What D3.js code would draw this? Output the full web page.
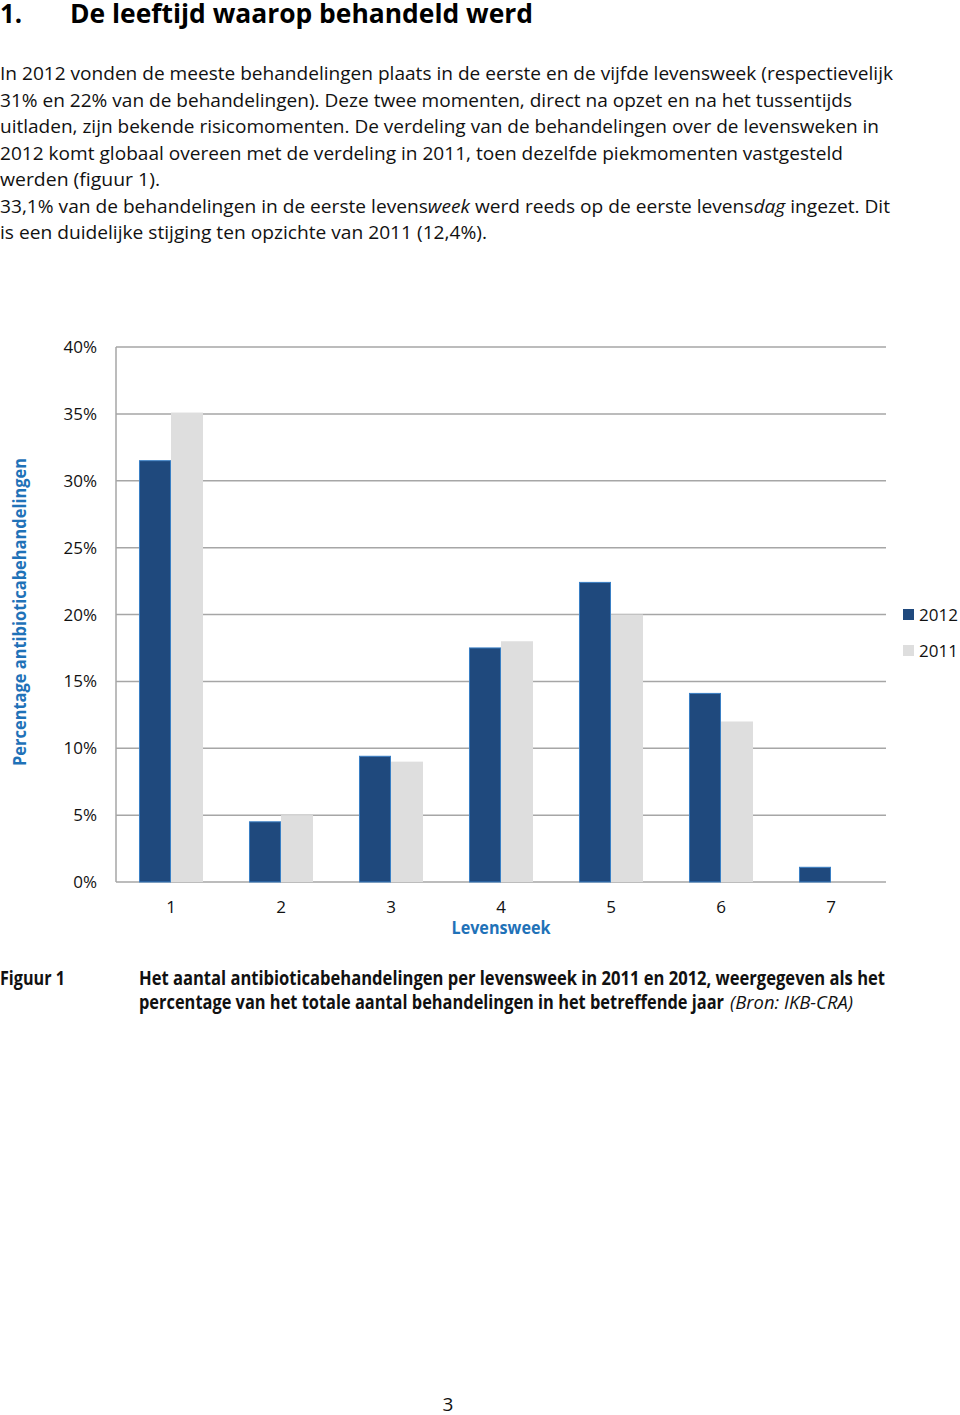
<!DOCTYPE html>
<meta charset="utf-8">
<style>
  body { margin: 0; background: #fff; }
  svg { display: block; font-family: "Open Sans", "Noto Sans", sans-serif; }
  .body-text { font-size: 19px; fill: #111; }
  .tick-label { font-size: 17px; fill: #111; }
  .axis-title { font-size: 17px; font-weight: bold; fill: #1f72b8; }
</style>
<script src="https://d3js.org/d3.v7.min.js"></script>
<svg width="960" height="1415"></svg>
<script>
  // chart data
  var weeks = ["1", "2", "3", "4", "5", "6", "7"];
  var series = ["2012", "2011"];
  var values2012 = [31.5, 4.5, 9.4, 17.5, 22.4, 14.1, 1.1];
  var values2011 = [35.1, 5.0, 9.0, 18.0, 20.0, 12.0, 0];
  var yTicks = [0, 5, 10, 15, 20, 25, 30, 35, 40];
  var colors = { "2012": "#1f497d", "2011": "#dedede" };

  var svg = d3.select("svg");

  svg.append("rect").attr("width", 960).attr("height", 1415).attr("fill", "#fff");

  // fit a text element to a measured width
  function fitText(sel, len) {
    return sel.attr("textLength", len).attr("lengthAdjust", "spacingAndGlyphs");
  }

  // heading
  fitText(svg.append("text").attr("x", 0).attr("y", 23)
    .style("font-size", "27px").style("font-weight", "bold").text("1."), 22);
  fitText(svg.append("text").attr("x", 70).attr("y", 23)
    .style("font-size", "27px").style("font-weight", "bold")
    .text("De leeftijd waarop behandeld werd"), 463);

  // paragraph lines: [text parts, width]
  var lines = [
    [[["In 2012 vonden de meeste behandelingen plaats in de eerste en de vijfde levensweek (respectievelijk", false]], 893],
    [[["31% en 22% van de behandelingen). Deze twee momenten, direct na opzet en na het tussentijds", false]], 852],
    [[["uitladen, zijn bekende risicomomenten. De verdeling van de behandelingen over de levensweken in", false]], 879],
    [[["2012 komt globaal overeen met de verdeling in 2011, toen dezelfde piekmomenten vastgesteld", false]], 843],
    [[["werden (figuur 1).", false]], 160],
    [[["33,1% van de behandelingen in de eerste levens", false], ["week", true],
      [" werd reeds op de eerste levens", false], ["dag", true], [" ingezet. Dit", false]], 890],
    [[["is een duidelijke stijging ten opzichte van 2011 (12,4%).", false]], 487]
  ];

  lines.forEach(function (l, i) {
    var t = svg.append("text").attr("class", "body-text")
      .attr("x", 0).attr("y", 80 + i * 26.5);
    l[0].forEach(function (p) {
      t.append("tspan").style("font-style", p[1] ? "italic" : "normal").text(p[0]);
    });
    fitText(t, l[1]);
  });

  // chart
  var plotLeft = 116, plotRight = 886, plotTop = 347, plotBottom = 882;

  var y = d3.scaleLinear().domain([0, 40]).range([plotBottom, plotTop]);

  var x0 = d3.scaleBand().domain(weeks).range([plotLeft, plotRight])
    .paddingInner(0.418).paddingOuter(0.209);

  var x1 = d3.scaleBand().domain(series).range([0, x0.bandwidth()]);

  var g = svg.append("g");

  // gridlines
  g.selectAll("line.grid").data(yTicks).enter().append("line")
    .attr("class", "grid")
    .attr("x1", plotLeft).attr("x2", plotRight)
    .attr("y1", function (d) { return y(d); })
    .attr("y2", function (d) { return y(d); })
    .attr("stroke", "#a6a6a6").attr("stroke-width", 1.5);

  g.append("line")
    .attr("x1", plotLeft).attr("x2", plotLeft)
    .attr("y1", plotTop).attr("y2", plotBottom)
    .attr("stroke", "#a6a6a6").attr("stroke-width", 1.5);

  g.selectAll("text.ytick").data(yTicks).enter().append("text")
    .attr("class", "tick-label ytick")
    .attr("x", 97).attr("y", function (d) { return y(d) + 6; })
    .attr("text-anchor", "end")
    .text(function (d) { return d + "%"; });

  // bars
  var rows = weeks.map(function (w, i) {
    return { week: w, vals: [{ key: "2012", v: values2012[i] }, { key: "2011", v: values2011[i] }] };
  });

  var groups = g.selectAll("g.week").data(rows).enter().append("g")
    .attr("class", "week")
    .attr("transform", function (d) { return "translate(" + x0(d.week) + ",0)"; });

  groups.selectAll("rect").data(function (d) { return d.vals.filter(function (e) { return e.v > 0; }); })
    .enter().append("rect")
    .attr("x", function (d) { return x1(d.key) + (d.key === "2012" ? 0.5 : 0); })
    .attr("width", function (d) { return x1.bandwidth() - (d.key === "2012" ? 1 : 0); })
    .attr("y", function (d) { return y(d.v); })
    .attr("height", function (d) { return plotBottom - y(d.v); })
    .attr("fill", function (d) { return colors[d.key]; })
    .attr("stroke", function (d) { return d.key === "2012" ? "#3a7fc4" : "none"; })
    .attr("stroke-width", 1);

  // x labels
  g.selectAll("text.xtick").data(weeks).enter().append("text")
    .attr("class", "tick-label xtick")
    .attr("x", function (d) { return x0(d) + x0.bandwidth() / 2; })
    .attr("y", 913)
    .attr("text-anchor", "middle")
    .text(function (d) { return d; });

  fitText(svg.append("text").attr("class", "axis-title")
    .attr("x", 501).attr("y", 934).attr("text-anchor", "middle")
    .text("Levensweek"), 99);

  fitText(svg.append("text").attr("class", "axis-title")
    .attr("transform", "translate(26,612) rotate(-90)")
    .attr("text-anchor", "middle")
    .text("Percentage antibioticabehandelingen"), 308);

  // legend
  var legend = svg.selectAll("g.legend").data(series).enter().append("g")
    .attr("class", "legend")
    .attr("transform", function (d, i) { return "translate(903," + (609 + i * 36) + ")"; });

  legend.append("rect").attr("width", 11).attr("height", 11)
    .attr("fill", function (d) { return colors[d]; });

  legend.append("text").attr("class", "tick-label")
    .attr("x", 16).attr("y", 12)
    .text(function (d) { return d; });

  // caption
  fitText(svg.append("text").attr("class", "body-text").style("font-weight", "bold")
    .attr("x", 0).attr("y", 985).text("Figuur 1"), 65);

  fitText(svg.append("text").attr("class", "body-text").style("font-weight", "bold")
    .attr("x", 139).attr("y", 985)
    .text("Het aantal antibioticabehandelingen per levensweek in 2011 en 2012, weergegeven als het"), 746);

  fitText(svg.append("text").attr("class", "body-text").style("font-weight", "bold")
    .attr("x", 139).attr("y", 1009)
    .text("percentage van het totale aantal behandelingen in het betreffende jaar"), 585);

  fitText(svg.append("text").attr("class", "body-text").style("font-style", "italic")
    .attr("x", 730).attr("y", 1009)
    .text("(Bron: IKB-CRA)"), 123);

  // page number
  svg.append("text").attr("class", "body-text")
    .attr("x", 448).attr("y", 1411).attr("text-anchor", "middle").text("3");
</script>
